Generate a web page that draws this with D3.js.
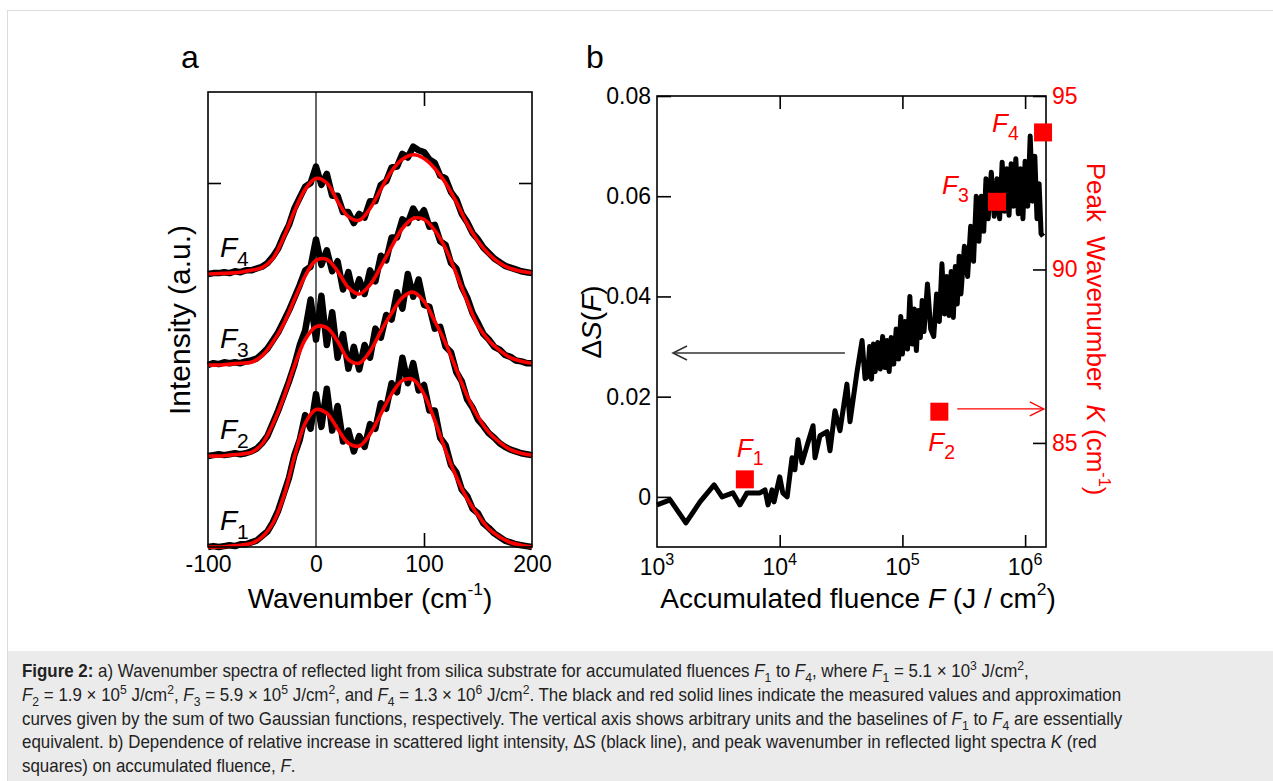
<!DOCTYPE html>
<html>
<head>
<meta charset="UTF-8">
<title>Figure 2</title>
<script src="https://cdn.jsdelivr.net/npm/d3@7"></script>
<style>
  html, body { margin: 0; padding: 0; background: #fff; }
  svg { display: block; font-family: "Liberation Sans", Arial, sans-serif; }
  text { white-space: pre; }
</style>
</head>
<body>
<script>
// ---- panel a : spectra (arbitrary units, each curve sits on its own baseline)
var curveNames = ["1", "2", "3", "4"];
var baselines = [0, 1, 2, 3];

var wnFit = [-100,-90,-80,-70,-60,-50,-40,-30,-20,-10,0,10,20,30,40,50,60,70,80,90,100,110,120,130,140,150,160,170,180,190,200];
var fitF1 = [0,0,0.01,0.02,0.04,0.11,0.26,0.55,0.99,1.36,1.51,1.47,1.30,1.14,1.11,1.24,1.46,1.68,1.83,1.84,1.68,1.39,1.06,0.77,0.53,0.35,0.20,0.11,0.05,0.02,0];
var fitF2 = [0,0,0.01,0.02,0.04,0.13,0.35,0.64,0.99,1.28,1.42,1.41,1.26,1.06,1.02,1.15,1.37,1.57,1.74,1.80,1.70,1.48,1.24,0.95,0.66,0.43,0.26,0.15,0.07,0.03,0.01];
var fitF3 = [0,0,0.01,0.02,0.03,0.10,0.25,0.45,0.72,0.98,1.15,1.16,1.03,0.85,0.78,0.88,1.08,1.30,1.50,1.61,1.60,1.48,1.28,1.00,0.70,0.43,0.27,0.16,0.08,0.04,0.02];
var fitF4 = [0,0.005,0.01,0.02,0.04,0.07,0.17,0.40,0.69,0.93,1.05,1.00,0.80,0.63,0.59,0.72,0.93,1.13,1.26,1.31,1.27,1.16,1.00,0.79,0.55,0.36,0.22,0.12,0.06,0.03,0.01];

var wnRaw = [-100,-95,-90,-85,-80,-75,-70,-65,-60,-55,-50,-45,-40,-35,-30,-25,-20,-15,-10,-5,0,5,10,15,20,25,30,35,40,45,50,55,60,65,70,75,80,85,90,95,100,105,110,115,120,125,130,135,140,145,150,155,160,165,170,175,180,185,190,195,200];
var rawF1 = [0,0.01,0,0.01,0.02,0.01,0.03,0.03,0.05,0.07,0.12,0.17,0.27,0.40,0.58,0.76,1.01,1.18,1.45,1.30,1.68,1.32,1.74,1.28,1.55,1.16,1.28,1.05,1.22,1.10,1.35,1.30,1.58,1.52,1.80,1.70,2.08,1.80,2.02,1.72,1.78,1.50,1.50,1.20,1.12,0.90,0.82,0.63,0.56,0.42,0.37,0.26,0.21,0.15,0.11,0.07,0.05,0.03,0.02,0.01,0];
var rawF2 = [0,0.01,0.02,0.01,0.02,0.03,0.02,0.03,0.05,0.08,0.14,0.22,0.36,0.50,0.66,0.82,1.00,1.22,1.38,1.72,1.28,1.76,1.22,1.58,1.08,1.34,0.96,1.20,0.95,1.22,1.08,1.40,1.30,1.55,1.50,1.80,1.62,2.00,1.75,1.94,1.66,1.64,1.40,1.42,1.20,1.14,0.92,0.82,0.62,0.53,0.40,0.33,0.25,0.20,0.14,0.10,0.07,0.05,0.03,0.02,0.01];
var rawF3 = [0,0.02,0.01,0.03,0.02,0.03,0.02,0.04,0.05,0.07,0.12,0.18,0.27,0.36,0.48,0.60,0.74,0.88,1.04,1.08,1.38,1.10,1.26,1.03,1.14,0.83,1.02,0.76,0.94,0.78,1.04,0.92,1.20,1.15,1.40,1.40,1.60,1.56,1.72,1.62,1.70,1.52,1.54,1.36,1.32,1.12,1.06,0.86,0.74,0.57,0.46,0.34,0.28,0.20,0.17,0.11,0.09,0.05,0.04,0.02,0.02];
var rawF4 = [0,0.01,0.01,0.02,0.01,0.03,0.02,0.04,0.04,0.06,0.08,0.12,0.19,0.28,0.42,0.54,0.72,0.84,0.96,1.00,1.18,0.98,1.10,0.86,0.86,0.68,0.68,0.56,0.66,0.62,0.80,0.80,0.98,1.02,1.17,1.18,1.32,1.28,1.40,1.36,1.34,1.26,1.22,1.08,1.05,0.90,0.82,0.66,0.57,0.45,0.38,0.29,0.23,0.17,0.13,0.09,0.07,0.05,0.03,0.02,0.01];

// ---- panel b : scattered light increase vs accumulated fluence
var fluence = [1000,1280,1720,2240,2920,3390,4160,4740,5410,6900,7590,8030,8660,8990,10000,10600,11500,12600,13300,14100,15200,16700,18700,19400,21300,24300,25700,28200,31000,35300,37400,42700,46900,49600,
  52000,54000,56000,58000,60000,63000,66000,69000,72000,75000,78000,81000,85000,89000,93000,97000,100000,105000,110000,115000,120000,125000,130000,135000,140000,145000,150000,160000,170000,180000,190000,200000,
  210000,220000,230000,240000,250000,260000,270000,280000,290000,300000,320000,340000,360000,380000,400000,420000,440000,460000,480000,500000,530000,560000,590000,620000,650000,680000,710000,740000,770000,800000,
  840000,880000,920000,960000,1000000,1050000,1100000,1150000,1200000,1250000,1300000,1350000,1400000];
var deltaS = [-0.0016,-0.0006,-0.0052,-0.0010,0.0024,0.0000,0.0008,-0.0016,0.0008,0.0008,0.0014,-0.0016,0.0014,-0.0010,0.0040,0.0008,0.0000,0.0078,0.0054,0.0114,0.0068,0.0102,0.0142,0.0078,0.0122,0.0130,0.0092,0.0172,0.0132,0.0225,0.0150,0.0250,0.0312,0.0236,
  0.0240,0.0300,0.0235,0.0305,0.0250,0.0308,0.0255,0.0320,0.0258,0.0312,0.0250,0.0318,0.0265,0.0335,0.0275,0.0360,0.0285,0.0350,0.0295,0.0400,0.0305,0.0375,0.0292,0.0372,0.0318,0.0392,0.0330,0.0425,0.0335,0.0320,0.0405,0.0350,
  0.0465,0.0365,0.0440,0.0362,0.0450,0.0358,0.0460,0.0385,0.0480,0.0405,0.0500,0.0440,0.0540,0.0470,0.0600,0.0510,0.0600,0.0530,0.0635,0.0555,0.0648,0.0560,0.0635,0.0555,0.0668,0.0570,0.0655,0.0562,0.0665,0.0580,
  0.0675,0.0565,0.0655,0.0555,0.0670,0.0580,0.0720,0.0590,0.0680,0.0555,0.0625,0.0525,0.0520];

// peak wavenumber K for F1..F4 (red squares, right axis)
var markFluence = [5200, 200000, 590000, 1400000];
var markK = [83.95, 85.9, 91.95, 93.95];

var ticksA = [-100, 0, 100, 200];
var ticksDS = [0, 0.02, 0.04, 0.06, 0.08];
var ticksK = [85, 90, 95];
var ticksF = [1e3, 1e4, 1e5, 1e6];

var captionLines = [
  "<b>Figure 2:</b> a) Wavenumber spectra of reflected light from silica substrate for accumulated fluences <i>F</i><sub>1</sub> to <i>F</i><sub>4</sub>, where <i>F</i><sub>1</sub> = 5.1 × 10<sup>3</sup> J/cm<sup>2</sup>,",
  "<i>F</i><sub>2</sub> = 1.9 × 10<sup>5</sup> J/cm<sup>2</sup>, <i>F</i><sub>3</sub> = 5.9 × 10<sup>5</sup> J/cm<sup>2</sup>, and <i>F</i><sub>4</sub> = 1.3 × 10<sup>6</sup> J/cm<sup>2</sup>. The black and red solid lines indicate the measured values and approximation",
  "curves given by the sum of two Gaussian functions, respectively. The vertical axis shows arbitrary units and the baselines of <i>F</i><sub>1</sub> to <i>F</i><sub>4</sub> are essentially",
  "equivalent. b) Dependence of relative increase in scattered light intensity, Δ<i>S</i> (black line), and peak wavenumber in reflected light spectra <i>K</i> (red",
  "squares) on accumulated fluence, <i>F</i>."
];

var RED = "#ff0000";
var svg = d3.select("body").append("svg").attr("width", 1273).attr("height", 781);

// page frame + caption box
svg.append("rect").attr("x", 7.5).attr("y", 10.5).attr("width", 1300).attr("height", 800)
  .attr("fill", "#fff").attr("stroke", "#dcdcdc");
svg.append("rect").attr("x", 8).attr("y", 651).attr("width", 1265).attr("height", 130).attr("fill", "#ebebeb");

// tiny markup -> tspans  (b, i, sub, sup)
function rich(sel, str, size, subShift, scriptScale, supShift) {
  subShift = subShift || 0.3; scriptScale = scriptScale || 0.72; supShift = supShift || 0.4;
  var parts = str.split(/(<\/?(?:b|i|sub|sup)>)/);
  var st = {b: 0, i: 0, sub: 0, sup: 0}, shift = 0;
  parts.forEach(function(p) {
    if (!p) return;
    var m = p.match(/^<(\/?)(b|i|sub|sup)>$/);
    if (m) { st[m[2]] = m[1] ? 0 : 1; return; }
    var target = st.sub ? size * subShift : st.sup ? -size * supShift : 0;
    var t = sel.append("tspan").text(p).attr("dy", target - shift);
    shift = target;
    if (st.b) t.attr("font-weight", "bold");
    if (st.i) t.attr("font-style", "italic");
    if (st.sub || st.sup) t.attr("font-size", size * scriptScale);
  });
  return sel;
}

// ================= panel a =================
var xa = d3.scaleLinear().domain([-100, 200]).range([208, 532]);
var ya = d3.scaleLinear().domain([0, 5]).range([547, 92]);

var ga = svg.append("g");
ga.append("line").attr("x1", xa(0)).attr("x2", xa(0)).attr("y1", ya(5)).attr("y2", ya(0))
  .attr("stroke", "#000").attr("stroke-width", 1.2);

var rawSets = [rawF1, rawF2, rawF3, rawF4];
var fitSets = [fitF1, fitF2, fitF3, fitF4];

rawSets.forEach(function(arr, k) {
  var line = d3.line().x(function(d, i) { return xa(wnRaw[i]); })
    .y(function(d) { return ya(d + baselines[k]); });
  ga.append("path").datum(arr).attr("d", line).attr("fill", "none")
    .attr("stroke", "#000").attr("stroke-width", 6.5).attr("stroke-linejoin", "round");
});
fitSets.forEach(function(arr, k) {
  var line = d3.line().curve(d3.curveCatmullRom).x(function(d, i) { return xa(wnFit[i]); })
    .y(function(d) { return ya(d + baselines[k]); });
  ga.append("path").datum(arr).attr("d", line).attr("fill", "none")
    .attr("stroke", RED).attr("stroke-width", 3.6).attr("stroke-linejoin", "round");
});

// frame and ticks
ga.append("rect").attr("x", xa(-100)).attr("y", ya(5)).attr("width", xa(200) - xa(-100))
  .attr("height", ya(0) - ya(5)).attr("fill", "none").attr("stroke", "#000").attr("stroke-width", 1.6);

var axA = ga.append("g").attr("transform", "translate(0," + ya(0) + ")")
  .call(d3.axisBottom(xa).tickValues(ticksA).tickSizeInner(-14).tickSizeOuter(0).tickPadding(9)
    .tickFormat(function(d) { return d === -100 ? "-100" : d; }));
ga.append("g").attr("transform", "translate(0," + ya(5) + ")")
  .call(d3.axisTop(xa).tickValues([100]).tickSize(-14).tickFormat(""));
ga.append("g").attr("transform", "translate(" + xa(-100) + ",0)")
  .call(d3.axisLeft(ya).tickValues([4]).tickSize(-13).tickFormat(""));
ga.append("g").attr("transform", "translate(" + xa(200) + ",0)")
  .call(d3.axisRight(ya).tickValues([4]).tickSize(-13).tickFormat(""));
ga.selectAll(".domain").remove();
ga.selectAll(".tick line").attr("stroke", "#000").attr("stroke-width", 1.6);
axA.selectAll(".tick line").filter(function(d) { return d !== 100; }).remove();
axA.selectAll("text").attr("font-size", 23).attr("fill", "#000")
  .attr("font-family", "Liberation Sans, Arial, sans-serif");

// curve labels F1..F4
baselines.forEach(function(b, k) {
  rich(ga.append("text").attr("x", 220).attr("y", ya(b) - 17).attr("font-size", 28).attr("fill", "#000"),
    "<i>F</i><sub>" + curveNames[k] + "</sub>", 28, 0.32, 0.75);
});

// titles
svg.append("text").attr("x", 181).attr("y", 68).attr("font-size", 32).text("a");
rich(svg.append("text").attr("x", 370).attr("y", 608).attr("text-anchor", "middle").attr("font-size", 28),
  "Wavenumber (cm<sup>-1</sup>)", 28, 0.3, 0.62, 0.45);
svg.append("text").attr("transform", "translate(190,320) rotate(-90)").attr("text-anchor", "middle")
  .attr("font-size", 30).text("Intensity (a.u.)");

// ================= panel b =================
var xb = d3.scaleLog().domain([1e3, 1.48e6]).range([657, 1046]);
var yb = d3.scaleLinear().domain([-0.01, 0.08]).range([547, 96]);
var yk = d3.scaleLinear().domain([82, 95]).range([547, 96]);

var gb = svg.append("g");
var dsLine = d3.line().x(function(d, i) { return xb(fluence[i]); }).y(function(d) { return yb(d); });
gb.append("path").datum(deltaS).attr("d", dsLine).attr("fill", "none")
  .attr("stroke", "#000").attr("stroke-width", 5).attr("stroke-linejoin", "round");

gb.append("rect").attr("x", xb(1e3)).attr("y", yb(0.08)).attr("width", xb(1.48e6) - xb(1e3))
  .attr("height", yb(-0.01) - yb(0.08)).attr("fill", "none").attr("stroke", "#000").attr("stroke-width", 1.6);

gb.append("g").attr("transform", "translate(0," + yb(-0.01) + ")")
  .call(d3.axisBottom(xb).tickValues(ticksF.slice(1)).tickSize(-12).tickFormat(""));
gb.append("g").attr("transform", "translate(0," + yb(0.08) + ")")
  .call(d3.axisTop(xb).tickValues(ticksF.slice(1)).tickSize(-13).tickFormat(""));
var axDS = gb.append("g").attr("transform", "translate(" + xb(1e3) + ",0)")
  .call(d3.axisLeft(yb).tickValues(ticksDS).tickSize(-14).tickPadding(6)
    .tickFormat(function(d) { return d === 0 ? "0" : d3.format(".2f")(d); }));
var axK = gb.append("g").attr("transform", "translate(" + xb(1.48e6) + ",0)")
  .call(d3.axisRight(yk).tickValues(ticksK).tickSize(-13).tickPadding(6));
gb.selectAll(".domain").remove();
gb.selectAll(".tick line").attr("stroke", "#000").attr("stroke-width", 1.6);
axDS.selectAll("text").attr("font-size", 23).attr("fill", "#000").attr("font-family", "Liberation Sans, Arial, sans-serif");
axK.selectAll("text").attr("font-size", 23).attr("fill", RED).attr("font-family", "Liberation Sans, Arial, sans-serif");

// 10^n labels
ticksF.forEach(function(v) {
  rich(gb.append("text").attr("x", xb(v)).attr("y", 575).attr("text-anchor", "middle").attr("font-size", 23),
    "10<sup>" + Math.round(Math.log10(v)) + "</sup>", 23, 0.3, 0.7, 0.45);
});

// red squares
var sq = 18;
gb.selectAll("rect.mark").data(markK).enter().append("rect").attr("class", "mark")
  .attr("x", function(d, i) { return xb(markFluence[i]) - sq / 2; })
  .attr("y", function(d) { return yk(d) - sq / 2; })
  .attr("width", sq).attr("height", sq).attr("fill", RED);

var labelOff = [[-8, -22], [-11, 39], [-55, -8], [-51, 0]];
markK.forEach(function(k, i) {
  rich(gb.append("text").attr("x", xb(markFluence[i]) + labelOff[i][0]).attr("y", yk(k) + labelOff[i][1])
    .attr("font-size", 26).attr("fill", RED), "<i>F</i><sub>" + curveNames[i] + "</sub>", 26, 0.3, 0.75);
});

// arrows pointing to the axis each series uses
function arrow(x1, x2, y, color, w) {
  var dir = x2 < x1 ? 1 : -1;
  gb.append("line").attr("x1", x1).attr("x2", x2).attr("y1", y).attr("y2", y)
    .attr("stroke", color).attr("stroke-width", w);
  gb.append("polyline").attr("points", [[x2 + dir * 14, y - 7], [x2, y], [x2 + dir * 14, y + 7]].join(" "))
    .attr("fill", "none").attr("stroke", color).attr("stroke-width", w);
}
arrow(xb(3.4e4), xb(1.35e3), yb(0.0287), "#333", 1.6);
arrow(xb(2.8e5), xb(1.42e6), yk(85.98), RED, 1.3);

svg.append("text").attr("x", 586).attr("y", 68).attr("font-size", 32).text("b");
rich(svg.append("text").attr("x", 858).attr("y", 608).attr("text-anchor", "middle").attr("font-size", 28),
  "Accumulated fluence <i>F</i> (J / cm<sup>2</sup>)", 28, 0.3, 0.62, 0.45);
rich(svg.append("text").attr("transform", "translate(601,322) rotate(-90)").attr("text-anchor", "middle")
  .attr("font-size", 28), "Δ<i>S</i>(<i>F</i>)", 28);
rich(svg.append("text").attr("transform", "translate(1087,329) rotate(90)").attr("text-anchor", "middle")
  .attr("font-size", 26).attr("fill", RED), "Peak  Wavenumber  <i>K</i> (cm<sup>-1</sup>)", 26, 0.3, 0.62, 0.45);

// ================= caption =================
var cap = svg.append("g").attr("fill", "#222");
var capY = [677, 701, 725, 748, 772];
var capTexts = captionLines.map(function(s, i) {
  return rich(cap.append("text").attr("x", 0).attr("y", capY[i]).attr("font-size", 18)
    .attr("font-family", "'Liberation Sans Narrow', 'Liberation Sans', Arial, sans-serif"), s, 18, 0.28, 0.72, 0.4);
});
var w3 = capTexts[2].node().getComputedTextLength();
cap.attr("transform", "translate(22,0) scale(" + (1101 / w3) + ",1)");
</script>
</body>
</html>
